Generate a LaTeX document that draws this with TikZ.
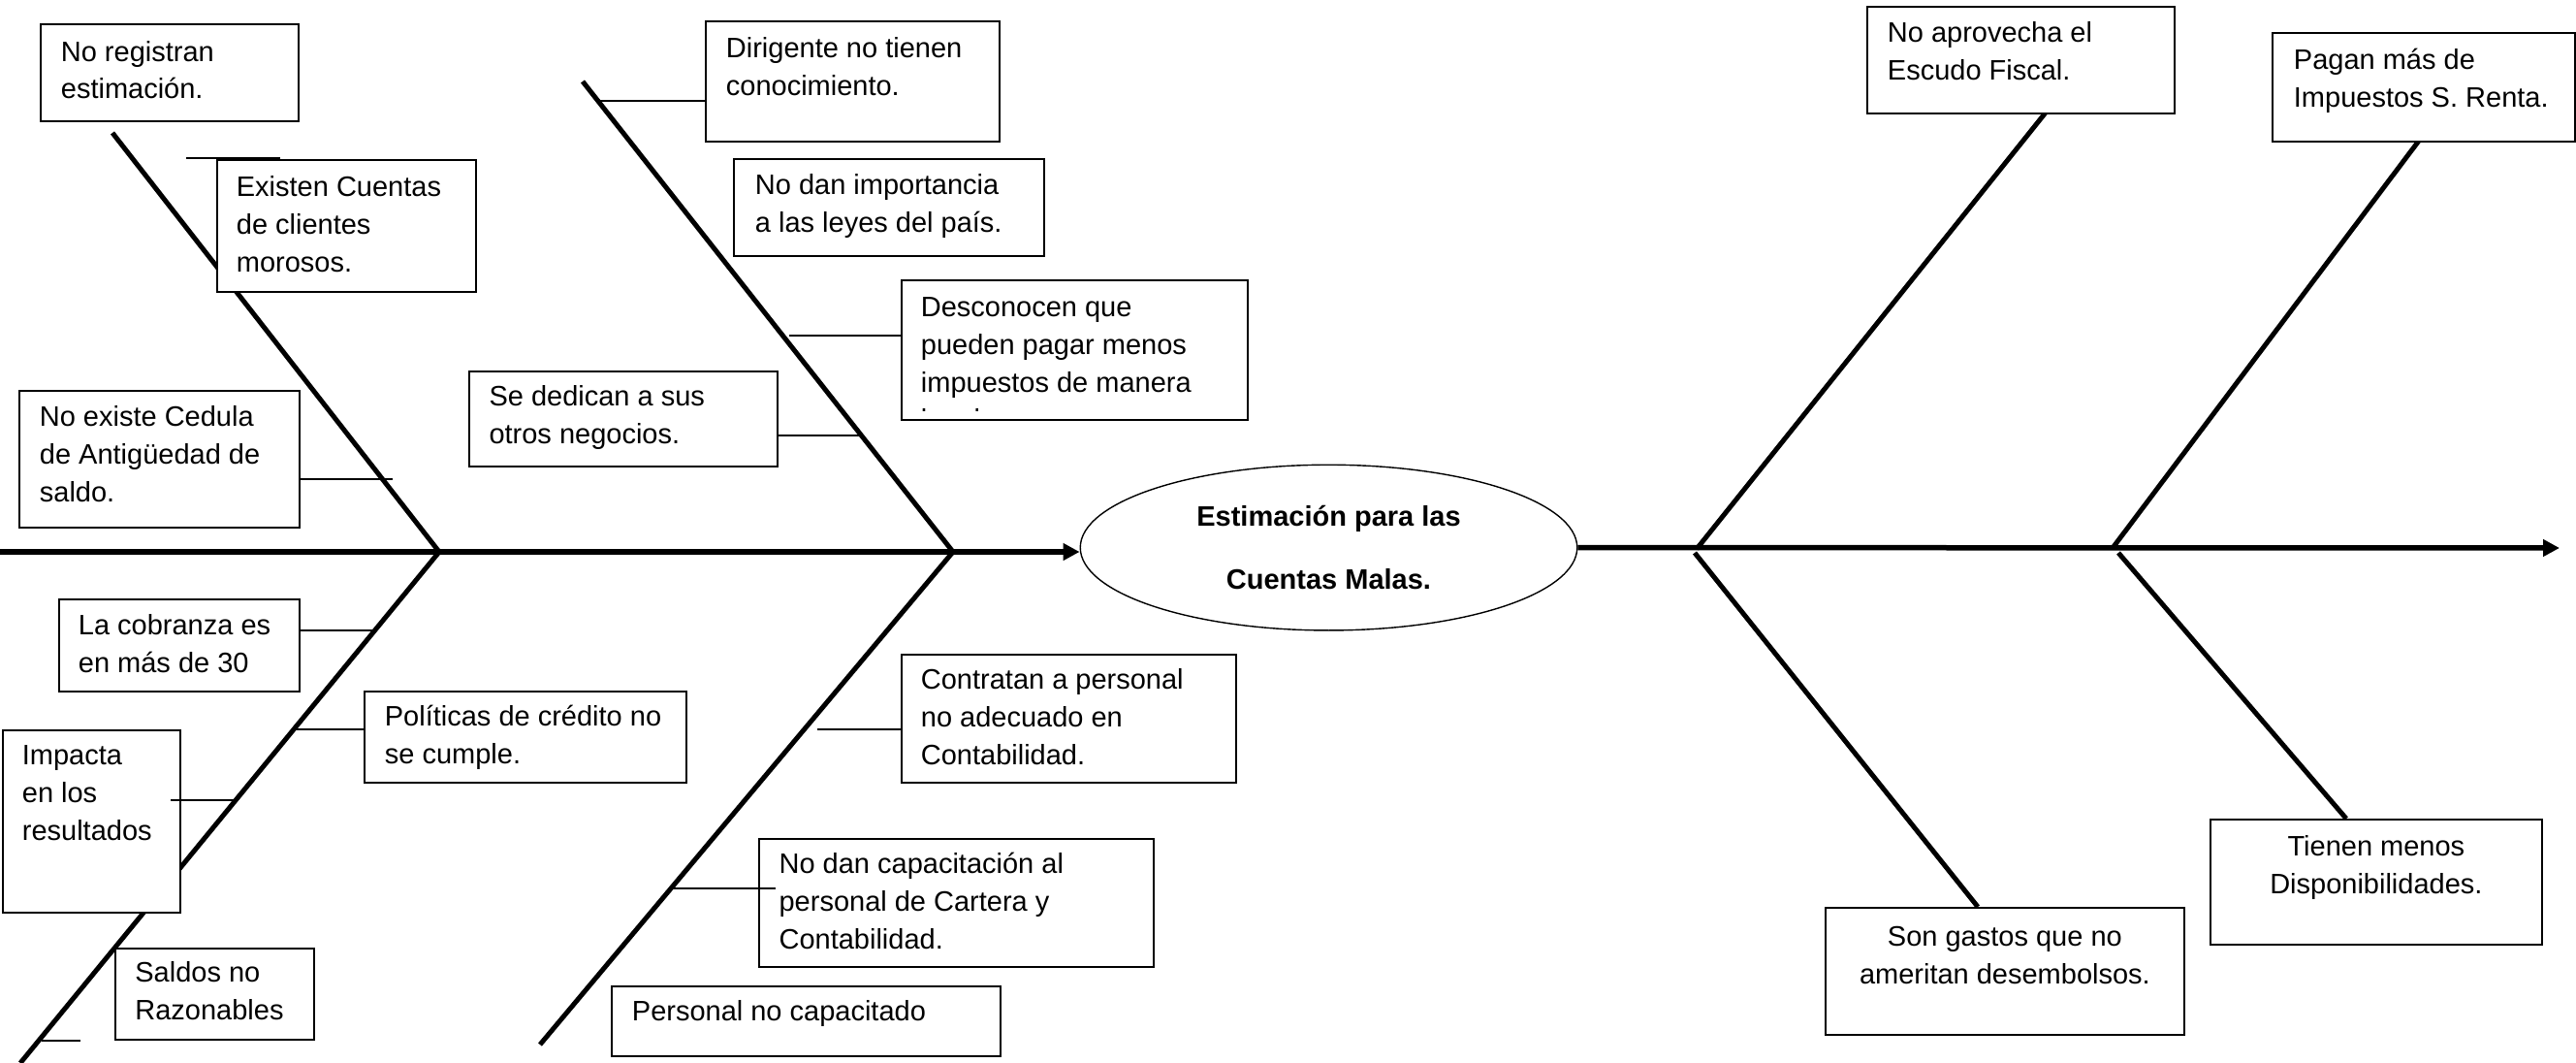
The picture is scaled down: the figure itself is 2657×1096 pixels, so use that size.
\documentclass[tikz,border=0pt]{standalone}
\usepackage{fontspec}
\setmainfont{Liberation Sans}
\usetikzlibrary{shapes.geometric,arrows.meta}
% W, H, left pad, first baseline, text
\newcommand\bt[5]{\parbox[c][#2][t]{#1}{\raggedright\leftskip=#3\relax\rule{0pt}{#4}#5}}
% W, H, first baseline, text (centred)
\newcommand\btc[4]{\parbox[c][#2][t]{#1}{\centering\rule{0pt}{#3}#4}}
\begin{document}
\begin{tikzpicture}[x=0.5pt,y=-0.5pt,
  every node/.style={font=\fontsize{14.5pt}{19.3pt}\selectfont},
  box/.style={draw, line width=0.9pt, fill=white, inner sep=0pt, anchor=north west},
  bone/.style={line width=2.5pt},
  spine/.style={line width=3pt},
  lead/.style={line width=1pt},
  tip/.style={-{Triangle[length=8.5pt,width=8.5pt]}}]
\useasboundingbox (0,0) rectangle (2657,1096);

% ---- effect
\node[ellipse, draw, line width=0.7pt, minimum width=256.25pt, minimum height=85.35pt,
      inner sep=0pt, align=center, font=\bfseries\fontsize{14.5pt}{32.5pt}\selectfont]
      (ell) at (1370.5,564.6) {Estimación para las\\Cuentas Malas.};

% ---- coordinates
\coordinate (sL) at (0,569);
\coordinate (sR) at (2640,565);
\coordinate (j1) at (453,569);
\coordinate (b1u) at (116,137);
\coordinate (b1d) at (21,1096);
\coordinate (j2) at (983,569);
\coordinate (b2u) at (601,84);
\coordinate (b2d) at (557,1077);
\coordinate (j3u) at (1750,566);
\coordinate (j3d) at (1748,570);
\coordinate (j4u) at (2179,565);
\coordinate (j4d) at (2185,570);
\coordinate (e15) at (2110,116);
\coordinate (e16) at (2495,145);
\coordinate (e17) at (2420,844);
\coordinate (e18) at (2040,935);

% ---- spines
\draw[spine,tip] (sL) -- (sL -| ell.west);
\draw[line width=2.75pt,tip] (ell.east) -- (sR);

% ---- bones
\draw[bone] (b1u) -- (j1) -- (b1d);
\draw[bone] (b2u) -- (j2) -- (b2d);
\draw[bone] (j3u) -- (e15);
\draw[bone] (j3d) -- (e18);
\draw[bone] (j4u) -- (e16);
\draw[bone] (j4d) -- (e17);

% ---- boxes
\node[box] (b1) at (41,24) {\bt{133pt}{50pt}{10.5pt}{19.25pt}{No registran\\estimación.}};
\node[box] (b2) at (223,164) {\bt{133.5pt}{68pt}{10pt}{19pt}{Existen Cuentas\\de clientes\\morosos.}};
\node[box] (b3) at (19,402) {\bt{144.5pt}{70.5pt}{10.5pt}{18.5pt}{No existe Cedula\\de Antigüedad de\\saldo.}};
\node[box] (b4) at (727,21) {\bt{151.5pt}{62pt}{10.5pt}{19pt}{Dirigente no tienen\\conocimiento.}};
\node[box] (b5) at (756,163) {\bt{160pt}{50pt}{11pt}{18.5pt}{No dan importancia\\a las leyes del país.}};
\node[box, minimum width=178.5pt, minimum height=72pt] (b6) at (929,288) {};
\begin{scope}
  \clip (929,288) rectangle (1286,424);
  \node[anchor=north west, inner sep=0pt] (b6t) at (929,288)
    {\bt{178.5pt}{72pt}{10.25pt}{19.3pt}{Desconocen que\\pueden pagar menos\\impuestos de manera\\legal.}};
\end{scope}
\node[box] (b7) at (483,382) {\bt{159pt}{49pt}{10.3pt}{18pt}{Se dedican a sus\\otros negocios.}};
\node[box] (b8) at (60,617) {\bt{124pt}{47.5pt}{10pt}{18.25pt}{La cobranza es\\en más de 30}};
\node[box] (b9) at (375,712) {\bt{166pt}{47pt}{10.5pt}{17.75pt}{Políticas de crédito no\\se cumple.}};
\node[box] (b10) at (2,752) {\bt{91.5pt}{94pt}{10pt}{18pt}{Impacta\\en los\\resultados}};
\node[box] (b11) at (118,977) {\bt{102.5pt}{47pt}{10.25pt}{17.3pt}{Saldos no\\Razonables}};
\node[box] (b12) at (929,674) {\bt{172.5pt}{66pt}{10pt}{18pt}{Contratan a personal\\no adecuado en\\Contabilidad.}};
\node[box] (b13) at (782,864) {\bt{203.5pt}{66pt}{10.35pt}{18pt}{No dan capacitación al\\personal de Cartera y\\Contabilidad.}};
\node[box] (b14) at (630,1016) {\bt{200.5pt}{36pt}{10.5pt}{18pt}{Personal no capacitado}};
\node[box] (b15) at (1925,6) {\bt{158.5pt}{55pt}{10.5pt}{18.5pt}{No aprovecha el\\Escudo Fiscal.}};
\node[box] (b16) at (2343,33) {\bt{156pt}{56pt}{11pt}{19pt}{Pagan más de\\Impuestos S. Renta.}};
\node[box] (b17) at (2279,844) {\btc{171pt}{64.5pt}{19pt}{Tienen menos\\Disponibilidades.}};
\node[box] (b18) at (1882,935) {\btc{185pt}{65.5pt}{20pt}{Son gastos que no\\ameritan desembolsos.}};

% ---- leader lines
\coordinate (k2a) at (192,163);
\coordinate (k2b) at (289,163);
\draw[lead] (k2a) -- (k2b);
\coordinate (k3) at (405,494);
\draw[lead] (b3.east |- k3) -- (k3);
\coordinate (k4) at (617,104);
\draw[lead] (k4) -- (k4 -| b4.west);
\coordinate (k6) at (814,346);
\draw[lead] (k6) -- (k6 -| b6.west);
\coordinate (k7) at (887,449);
\draw[lead] (b7.east |- k7) -- (k7);
\coordinate (k8) at (386,650);
\draw[lead] (b8.east |- k8) -- (k8);
\coordinate (k9) at (305,752);
\draw[lead] (k9) -- (k9 -| b9.west);
\coordinate (k10a) at (176,825);
\coordinate (k10b) at (243,825);
\draw[lead] (k10a) -- (k10b);
\coordinate (k11a) at (43,1073);
\coordinate (k11b) at (83,1073);
\draw[lead] (k11a) -- (k11b);
\coordinate (k12) at (843,752);
\draw[lead] (k12) -- (k12 -| b12.west);
\coordinate (k13a) at (690,916);
\coordinate (k13b) at (800,916);
\draw[lead] (k13a) -- (k13b);
\end{tikzpicture}
\end{document}
